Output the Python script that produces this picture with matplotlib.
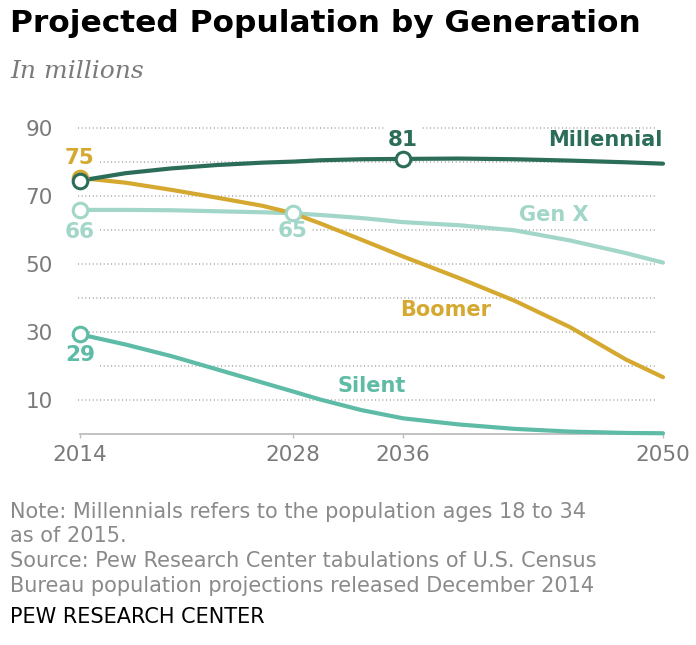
import numpy as np
import matplotlib
matplotlib.use("Agg")
import matplotlib.pyplot as plt
import matplotlib.transforms as mtransforms

# ---- data (millions) ----
years = [2014, 2017, 2020, 2023, 2026, 2028, 2030, 2033, 2036, 2039, 2042, 2045, 2048, 2050]
millennial = [74.6, 76.8, 78.2, 79.2, 79.9, 80.2, 80.6, 80.9, 81.0, 81.1, 80.9, 80.5, 80.0, 79.6]
gen_x      = [66.0, 66.0, 65.9, 65.6, 65.3, 65.0, 64.5, 63.6, 62.4, 61.5, 60.0, 57.0, 53.3, 50.5]
boomer     = [75.4, 74.0, 71.9, 69.6, 67.2, 65.0, 62.0, 57.2, 52.3, 46.0, 39.3, 31.5, 22.0, 16.8]
silent     = [29.4, 26.4, 23.0, 19.1, 15.2, 12.6, 10.2, 7.1, 4.7, 2.9, 1.6, 0.8, 0.4, 0.3]

x_ticks = [2014, 2028, 2036, 2050]
x_tick_labels = ["2014", "2028", "2036", "2050"]
y_ticks = [10, 30, 50, 70, 90]
y_tick_labels = ["10", "30", "50", "70", "90"]

# ---- style ----
C_MIL = "#2c6d5a"
C_GENX = "#a2d6c8"
C_BOOM = "#d5a830"
C_SIL = "#5dbba6"
C_GRID = "#a8a8a8"
C_TICK = "#7a7a7a"
C_NOTE = "#8a8a8a"
SANS = ["DejaVu Sans"]

# uneven spacing of the year axis: each labelled year sits at a fixed point
tick_pos = [0.0, 213.0, 323.0, 583.0]

def fwd(x):
    return np.interp(x, x_ticks, tick_pos)

def inv(p):
    return np.interp(p, tick_pos, x_ticks)

W, H = 696, 645
fig = plt.figure(figsize=(W / 100, H / 100), dpi=100)
fig.patch.set_facecolor("white")

left, right = 80 / W, 663 / W
bottom, top = 1 - 434.3 / H, 1 - 128.3 / H
ax = fig.add_axes([left, bottom, right - left, top - bottom])
ax.set_xscale("function", functions=(fwd, inv))
ax.set_xlim(2014, 2050)
ax.set_ylim(0, 90)

for s in ["top", "right", "left"]:
    ax.spines[s].set_visible(False)
ax.spines["bottom"].set_color("#bdbdbd")
ax.spines["bottom"].set_linewidth(1.3)

ax.set_xticks(x_ticks)
ax.set_xticklabels(x_tick_labels)
ax.xaxis.set_minor_locator(matplotlib.ticker.NullLocator())
ax.tick_params(axis="x", length=3, width=1, color="#bdbdbd", pad=5,
               labelsize=15.5, labelcolor=C_TICK)
ax.set_yticks(y_ticks)
ax.set_yticklabels(y_tick_labels)
ax.tick_params(axis="y", length=0, pad=19.5, labelsize=15.5, labelcolor=C_TICK)
for lab in ax.get_xticklabels() + ax.get_yticklabels():
    lab.set_family(SANS)

# dotted gridlines, every 10
gtrans = mtransforms.blended_transform_factory(ax.transAxes, ax.transData)
for g in range(10, 100, 10):
    ax.plot([-0.004, 0.99], [g, g], transform=gtrans, color=C_GRID,
            lw=1.1, linestyle=(0, (0.7, 1.7)), zorder=1, clip_on=False)

# series lines
lw = 3.0
ax.plot(years, silent, color=C_SIL, lw=lw, zorder=3, clip_on=False, solid_capstyle="round")
ax.plot(years, gen_x, color=C_GENX, lw=lw, zorder=3, clip_on=False, solid_capstyle="round")
ax.plot(years, boomer, color=C_BOOM, lw=lw, zorder=3, clip_on=False, solid_capstyle="round")
ax.plot(years, millennial, color=C_MIL, lw=lw, zorder=3, clip_on=False, solid_capstyle="round")

def ring(year, series, color, z):
    v = series[years.index(year)]
    ax.plot([year], [v], marker="o", ms=10.5, mfc="white", mec=color, mew=2.2,
            zorder=z, clip_on=False)
    return v

def value_label(year, series, color, dy):
    v = series[years.index(year)]
    ax.annotate(f"{v:.0f}", (year, v), xytext=(0, dy), textcoords="offset points",
                ha="center", va="center", fontsize=15.5, fontweight="bold",
                color=color, family=SANS, zorder=2,
                bbox=dict(boxstyle="square,pad=0.15", fc="white", ec="none"))

ring(2014, silent, C_SIL, 4)
ring(2014, gen_x, C_GENX, 4)
ring(2028, gen_x, C_GENX, 4)
ring(2014, boomer, C_BOOM, 4)
ring(2014, millennial, C_MIL, 5)
ring(2036, millennial, C_MIL, 5)

value_label(2014, boomer, C_BOOM, 14)
value_label(2014, gen_x, C_GENX, -16)
value_label(2028, gen_x, C_GENX, -13)
value_label(2036, millennial, C_MIL, 13.5)
value_label(2014, silent, C_SIL, -15)

# series names
name_kw = dict(fontsize=15, fontweight="bold", family=SANS, va="center", zorder=2)
ax.text(2050, 86.5, "Millennial", color=C_MIL, ha="right", **name_kw)
ax.text(2044.1, 64.5, "Gen X", color=C_GENX, ha="center",
        bbox=dict(boxstyle="square,pad=0.1", fc="white", ec="none"), **name_kw)
ax.text(2038.3, 36.5, "Boomer", color=C_BOOM, ha="center", **name_kw)
ax.text(2033.7, 14.3, "Silent", color=C_SIL, ha="center", **name_kw)

# titles and notes
fig.text(10 / W, 1 - 24 / H, "Projected Population by Generation", fontsize=22.5,
         fontweight="bold", family=SANS, color="black", va="center", ha="left")
fig.text(10 / W, 1 - 72 / H, "In millions", fontsize=18, style="italic",
         family=["DejaVu Serif"], color="#7a7a7a", va="center", ha="left")

notes = ["Note: Millennials refers to the population ages 18 to 34",
         "as of 2015.",
         "Source: Pew Research Center tabulations of U.S. Census",
         "Bureau population projections released December 2014"]
for i, line in enumerate(notes):
    fig.text(10 / W, 1 - (512 + i * 24.5) / H, line, fontsize=15, family=SANS,
             color=C_NOTE, va="center", ha="left")
fig.text(10 / W, 1 - 617 / H, "PEW RESEARCH CENTER", fontsize=15, family=SANS,
         color="black", va="center", ha="left")

fig.savefig("out.png", dpi=100, facecolor="white")
